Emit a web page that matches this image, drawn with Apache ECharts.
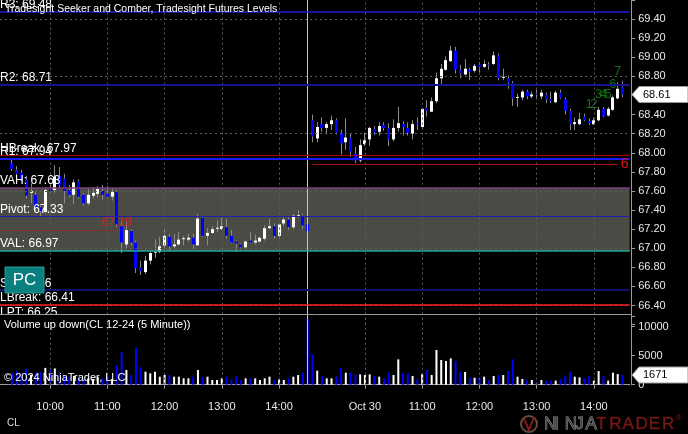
<!DOCTYPE html>
<html>
<head>
<meta charset="utf-8">
<script src="https://cdn.jsdelivr.net/npm/echarts@6/dist/echarts.min.js"></script>
<style>
html,body{margin:0;padding:0;background:#000;overflow:hidden;}
#chart{width:688px;height:434px;}
</style>
</head>
<body>
<div id="chart"></div>
<script>
const FONT = 'Arial, "Liberation Sans", sans-serif';

// ---------- sessions / categories (5 minute bars) ----------
const sessions = [
  {day: 'Oct 29', start: 9 * 60 + 10, end: 14 * 60 + 30},
  {day: 'Oct 30', start: 9 * 60 + 5,  end: 14 * 60 + 35}
];
const categories = [];
sessions.forEach(s => {
  for (let m = s.start; m <= s.end; m += 5) {
    const hh = String(Math.floor(m / 60)).padStart(2, '0');
    const mm = String(m % 60).padStart(2, '0');
    categories.push(s.day + ' ' + hh + ':' + mm);
  }
});

// ---------- price data ----------
const open = [null,null,
67.89,67.82,67.79,67.72,67.58,67.56,67.43,67.38,67.64,67.61,
67.76,67.73,67.61,67.56,67.70,67.56,67.47,67.55,67.57,67.60,
67.57,67.54,67.59,67.23,67.04,67.18,67.06,66.80,66.75,66.87,
66.95,66.96,67.03,67.12,67.02,67.04,67.09,67.09,67.11,67.03,
67.32,67.13,67.16,67.20,67.20,67.22,67.13,67.07,67.04,67.01,
67.08,67.06,67.07,67.10,67.21,67.23,67.13,67.26,67.30,67.22,
67.34,67.34,67.25,
68.34,68.15,68.30,68.26,68.30,68.34,68.21,68.11,68.16,67.99,
67.92,68.09,68.14,68.25,68.22,68.29,68.26,68.14,68.26,68.30,
68.26,68.20,68.30,68.27,68.47,68.43,68.54,68.78,68.87,68.96,
69.07,68.87,68.82,68.87,68.86,68.92,68.90,68.92,68.93,69.02,
68.78,68.78,68.73,68.57,68.58,68.64,68.59,68.61,68.59,68.61,
68.56,68.53,68.63,68.56,68.44,68.30,68.30,68.38,68.33,68.30,
68.34,68.46,68.39,68.45,68.57,68.69,
null];
const high = [null,null,
67.94,67.86,67.82,67.76,67.68,67.59,67.45,67.64,67.68,67.87,
67.85,67.78,67.66,67.72,67.72,67.58,67.62,67.64,67.65,67.66,
67.65,67.63,67.61,67.28,67.27,67.20,67.08,66.87,66.92,66.97,
67.09,67.12,67.20,67.15,67.15,67.17,67.13,67.15,67.15,67.36,
67.33,67.21,67.23,67.29,67.32,67.31,67.19,67.08,67.05,67.08,
67.17,67.14,67.12,67.24,67.31,67.26,67.26,67.32,67.32,67.36,
67.40,67.36,67.26,
68.40,68.32,68.37,68.32,68.39,68.36,68.24,68.36,68.20,68.06,
68.14,68.21,68.27,68.28,68.32,68.32,68.31,68.35,68.48,68.33,
68.32,68.34,68.37,68.47,68.55,68.58,68.84,68.93,69.01,69.12,
69.11,68.92,68.98,68.89,68.93,68.95,68.97,68.95,69.06,69.04,
68.88,68.81,68.75,68.62,68.66,68.66,68.64,68.66,68.66,68.63,
68.64,68.65,68.66,68.58,68.46,68.37,68.42,68.41,68.36,68.37,
68.48,68.48,68.48,68.60,68.74,68.75,
null];
const low = [null,null,
67.81,67.76,67.70,67.52,67.47,67.38,67.33,67.36,67.57,67.58,
67.63,67.47,67.53,67.46,67.52,67.45,67.45,67.52,67.53,67.51,
67.52,67.50,67.22,66.95,67.00,67.03,66.74,66.72,66.73,66.83,
66.90,66.95,67.00,66.98,67.00,67.03,67.03,67.07,66.99,67.03,
67.12,67.03,67.15,67.17,67.19,67.10,67.05,66.96,66.99,66.99,
67.05,67.04,67.06,67.08,67.20,67.10,67.11,67.23,67.19,67.20,
67.32,67.20,67.17,
68.11,68.11,68.22,68.19,68.24,68.19,67.98,68.03,67.96,67.89,
67.90,68.07,68.07,68.19,68.18,68.23,68.07,68.12,68.22,68.18,
68.18,68.14,68.24,68.25,68.38,68.43,68.52,68.71,68.86,68.95,
68.83,68.78,68.81,68.76,68.84,68.84,68.89,68.87,68.92,68.76,
68.76,68.67,68.49,68.48,68.55,68.56,68.57,68.57,68.56,68.52,
68.52,68.52,68.56,68.40,68.24,68.24,68.29,68.33,68.29,68.29,
68.33,68.37,68.38,68.44,68.56,68.58,
null];
const close = [null,null,
67.83,67.78,67.72,67.55,67.60,67.42,67.39,67.61,67.60,67.75,
67.66,67.60,67.56,67.69,67.54,67.47,67.56,67.58,67.62,67.56,
67.54,67.59,67.25,67.06,67.19,67.06,66.79,66.76,66.87,66.95,
66.96,67.02,67.13,67.02,67.04,67.09,67.10,67.11,67.04,67.31,
67.13,67.16,67.20,67.21,67.23,67.13,67.06,67.05,67.01,67.07,
67.06,67.08,67.11,67.21,67.23,67.13,67.25,67.30,67.22,67.34,
67.34,67.24,67.18,
68.17,68.27,68.26,68.30,68.34,68.21,68.10,68.16,68.01,67.92,
68.08,68.13,68.26,68.21,68.28,68.26,68.14,68.26,68.31,68.27,
68.21,68.30,68.29,68.46,68.44,68.54,68.78,68.88,68.97,69.07,
68.87,68.83,68.88,68.85,68.91,68.90,68.93,68.91,69.02,68.78,
68.79,68.73,68.57,68.58,68.64,68.59,68.61,68.60,68.63,68.56,
68.54,68.63,68.57,68.44,68.30,68.32,68.35,68.34,68.31,68.34,
68.45,68.38,68.46,68.58,68.67,68.61,
null];
const volume = [null,null,
2000,2400,2100,2800,1700,2100,2200,2900,2500,2800,
1900,1700,1300,1500,1200,1200,1100,1000,1300,1100,
1500,1000,3400,5690,2530,1670,6380,3000,2240,1960,
2240,1380,1670,1670,1380,1380,1100,1100,1380,2530,
1380,1380,810,810,1100,1380,900,1450,810,1100,
1100,1100,810,1100,1380,810,900,810,1100,1380,
1670,2070,11270,
5240,2420,1500,1100,1100,1380,2930,2070,2070,1780,
1780,1670,1780,1500,1380,1100,2070,1670,4370,2070,
1960,1500,900,1840,2530,1670,5980,4260,4080,4540,
4080,2240,2180,1210,1210,1210,1380,810,1500,1610,
1670,2410,4370,1380,980,810,810,520,810,700,
700,700,980,1560,2240,1380,1270,1100,1560,700,
2350,1560,700,2070,1840,1671,
null];

// ---------- levels ----------
const levelNames  = ['R3', 'R2', 'HBreak', 'R1', 'VAH', 'Pivot', 'VAL', 'S1', 'LBreak', 'LPT'];
const levelValues = [69.48, 68.71, 67.97, 67.94, 67.63, 67.33, 66.97, 66.56, 66.41, 66.25];
const priceTicks  = [66.4, 67.0, 67.6, 68.2, 68.8, 69.4];   // dotted grid rows
const volumeTicks = [0, 5000, 10000];

// seeker / comber counts
const seekerIdx   = [123, 124, 125, 126, 127, 128, 129];
const seekerText  = ['1', '2', '3', '4', '5', '6', '7'];
const seekerPrice = [68.51, 68.51, 68.61, 68.61, 68.61, 68.72, 68.85];
const comberLine  = {from: 65, to: 129, price: 67.88, text: '6'};
const markerLine  = {from: 0, to: 24, price: 67.19};

// ---------- styles ----------
const levelStyle = {
  R3:     {color: '#1c1cd8', width: 1.5},
  R2:     {color: '#14148f', width: 2},
  HBreak: {color: '#b00000', width: 1},
  R1:     {color: '#1a1aff', width: 2},
  VAH:    {color: '#7e3c7e', width: 1.5},
  Pivot:  {color: '#1e1eb0', width: 1},
  VAL:    {color: '#22a898', width: 1.5},
  S1:     {color: '#12126e', width: 2},
  LBreak: {color: '#ff2020', width: 1.5},
  LPT:    {color: 'rgba(0,0,0,0)', width: 1}
};
const UP = '#ffffff', DOWN = '#0000ff', WICK = '#8a8a8a', GRID = '#5c5c5c', AXIS = '#9a9a9a', TXT = '#e8e8e8';

const N = categories.length;
const SLOT = 4.77;
const PLOT_W = N * SLOT;

const hourIdx = [];
categories.forEach((c, i) => { const t = c.slice(-5); if (t.endsWith(':00') && t >= '10:00') hourIdx.push(i); });
const breakIdx = categories.indexOf('Oct 29 14:30');
const isHour = (i) => hourIdx.indexOf(i) >= 0;
function fmtLabel(v) {
  const day = v.slice(0, 6), t = v.slice(-5);
  if (day === 'Oct 30' && t === '10:00') return 'Oct 30';
  return t;
}

const candleData = [];
for (let i = 0; i < N; i++) {
  if (open[i] != null) candleData.push([i, open[i], high[i], low[i], close[i]]);
}
function renderCandle(params, api) {
  const i = api.value(0);
  const o = api.value(1), h = api.value(2), l = api.value(3), c = api.value(4);
  const pO = api.coord([i, o]), pC = api.coord([i, c]);
  const pH = api.coord([i, h]), pL = api.coord([i, l]);
  const cx = Math.floor(pO[0]);
  let top = Math.min(pO[1], pC[1]);
  let hgt = Math.abs(pO[1] - pC[1]);
  if (hgt < 1) { top = top - 0.5; hgt = 1; }
  return {type: 'group', children: [
    {type: 'line', shape: {x1: cx + 0.5, y1: pH[1], x2: cx + 0.5, y2: pL[1]}, style: {stroke: WICK, lineWidth: 1}},
    {type: 'rect', shape: {x: cx - 1, y: top, width: 3, height: hgt}, style: {fill: c >= o ? UP : DOWN}}
  ]};
}

const dotted = {color: GRID, width: 1, type: [2, 3]};
const levelLines = levelNames.map((n, k) => ({
  yAxis: levelValues[k],
  lineStyle: {color: levelStyle[n].color, width: levelStyle[n].width, type: 'solid'},
  label: {show: true, position: 'insideStartTop', distance: [0, 1], formatter: n + ': ' + levelValues[k].toFixed(2),
          color: '#ffffff', fontSize: 12, fontFamily: FONT}
}));
const gridRows = priceTicks.map(v => ({yAxis: v, lineStyle: dotted, label: {show: false}}));
const gridCols = hourIdx.map(i => ({xAxis: i, lineStyle: dotted, label: {show: false}}));
const breakCol = {xAxis: breakIdx, lineStyle: {color: '#c8c8c8', width: 1, type: 'solid'}, label: {show: false}};

const option = {
  backgroundColor: '#000000',
  animation: false,
  title: [
    {text: 'Tradesight Seeker and Comber, Tradesight Futures Levels', left: 5, top: 4, padding: 0,
     textStyle: {color: '#ffffff', fontSize: 10.5, fontWeight: 'normal', fontFamily: FONT}},
    {text: 'Volume up down(CL 12-24 (5 Minute))', left: 4, top: 319, padding: 0,
     textStyle: {color: '#ffffff', fontSize: 11, fontWeight: 'normal', fontFamily: FONT}},
    {text: '© 2024 NinjaTrader, LLC', left: 4, top: 372, padding: 0,
     textStyle: {color: '#ffffff', fontSize: 11, fontWeight: 'normal', fontFamily: FONT}},
    {text: 'CL', left: 7, top: 418, padding: 0,
     textStyle: {color: '#dddddd', fontSize: 10, fontWeight: 'normal', fontFamily: FONT}}
  ],
  grid: [
    {left: 0, width: PLOT_W, top: -4.43, height: 329.05, containLabel: false},
    {left: 0, width: PLOT_W, top: 316, height: 68.7, containLabel: false}
  ],
  xAxis: [
    {type: 'category', gridIndex: 0, data: categories, boundaryGap: true,
     axisLine: {show: false}, axisTick: {show: false}, axisLabel: {show: false}, splitLine: {show: false}},
    {type: 'category', gridIndex: 1, data: categories, boundaryGap: true,
     axisLine: {show: true, lineStyle: {color: AXIS, width: 1}},
     axisTick: {show: true, alignWithLabel: true, interval: (i) => isHour(i), length: 4, lineStyle: {color: AXIS}},
     axisLabel: {show: true, interval: (i) => isHour(i), formatter: fmtLabel, color: TXT, fontSize: 11,
                 fontFamily: FONT, margin: 17, hideOverlap: false},
     splitLine: {show: false}}
  ],
  yAxis: [
    {type: 'value', gridIndex: 0, position: 'right', offset: 1.5, min: 66.2, max: 69.6, interval: 0.2,
     axisLine: {show: true, lineStyle: {color: AXIS}},
     axisTick: {show: true, length: 4, lineStyle: {color: AXIS}},
     axisLabel: {show: true, color: TXT, fontSize: 11, fontFamily: FONT, margin: 7,
                 formatter: (v) => (v < 66.39 || v > 69.41) ? '' : v.toFixed(2)},
     splitLine: {show: false}},
    {type: 'value', gridIndex: 1, position: 'right', offset: 1.5, min: 0, max: 11845, interval: 5000,
     axisLine: {show: true, lineStyle: {color: AXIS}},
     axisTick: {show: true, length: 4, lineStyle: {color: AXIS}},
     axisLabel: {show: true, color: TXT, fontSize: 11, fontFamily: FONT, margin: 7,
                 formatter: (v) => volumeTicks.indexOf(v) >= 0 ? String(v) : ''},
     splitLine: {show: false}}
  ],
  series: [
    {
      name: 'levels', type: 'line', xAxisIndex: 0, yAxisIndex: 0, z: 1, silent: true,
      data: close, showSymbol: false, lineStyle: {opacity: 0}, itemStyle: {opacity: 0},
      markArea: {silent: true, itemStyle: {color: '#4b4b45'},
        data: [[{yAxis: levelValues[levelNames.indexOf('VAL')]}, {yAxis: levelValues[levelNames.indexOf('VAH')]}]]},
      markLine: {silent: true, symbol: ['none', 'none'], animation: false, precision: 2,
        data: gridRows.concat(gridCols, [breakCol], levelLines, [
          [{coord: [comberLine.from, comberLine.price], lineStyle: {color: '#b01010', width: 1, type: 'solid'},
            label: {show: true, position: 'end', distance: 3, formatter: comberLine.text, color: '#e01818', fontSize: 14, fontFamily: FONT}},
           {coord: [comberLine.to, comberLine.price]}],
          [{coord: [markerLine.from, markerLine.price], lineStyle: {color: '#c01010', width: 1, type: [2, 2]}, label: {show: false}},
           {coord: [markerLine.to, markerLine.price]}]
        ])}
    },
    {
      name: 'candles', type: 'custom', xAxisIndex: 0, yAxisIndex: 0, z: 3, silent: true,
      renderItem: renderCandle, data: candleData, encode: {x: 0, y: [1, 2, 3, 4]}
    },
    {
      name: 'seeker', type: 'scatter', xAxisIndex: 0, yAxisIndex: 0, z: 4, silent: true,
      symbolSize: 0,
      data: seekerIdx.map((x, k) => [x, seekerPrice[k]]),
      label: {show: true, position: 'inside', formatter: (p) => seekerText[p.dataIndex],
              color: '#1d8a1d', fontSize: 13, fontFamily: FONT}
    },
    {
      name: 'markerText', type: 'scatter', xAxisIndex: 0, yAxisIndex: 0, z: 4, silent: true,
      symbolSize: 0,
      data: [[markerLine.to, markerLine.price]],
      label: {show: true, position: 'top', distance: 1, formatter: markerLine.price.toFixed(2),
              color: '#e82020', fontSize: 12, fontFamily: FONT}
    },
    {
      name: 'volume', type: 'bar', xAxisIndex: 1, yAxisIndex: 1, z: 3, silent: true, barWidth: 2,
      data: volume.map((v, i) => v == null ? '-' : {value: v, itemStyle: {color: close[i] >= open[i] ? UP : DOWN}}),
      markLine: {silent: true, symbol: ['none', 'none'], animation: false,
        data: gridCols.concat([breakCol])}
    }
  ]
};

const chart = echarts.init(document.getElementById('chart'), null, {renderer: 'canvas', width: 688, height: 434});
chart.setOption(option);

// ---------- overlay graphics (panel border, PC button, value flags, logo) ----------
const lastI = N - 2;
const py = chart.convertToPixel({yAxisIndex: 0}, close[lastI]);
const vy = chart.convertToPixel({yAxisIndex: 1}, volume[lastI]);
function flag(y, text) {
  return [
    {type: 'polygon', z: 100, shape: {points: [[632, y], [639, y - 8], [688, y - 8], [688, y + 8], [639, y + 8]]},
     style: {fill: '#ffffff', stroke: '#9a9a9a', lineWidth: 1}},
    {type: 'text', z: 101, x: 643, y: y, style: {text: text, fill: '#000000', font: '11px ' + FONT,
     align: 'left', verticalAlign: 'middle', textAlign: 'left', textVerticalAlign: 'middle'}}
  ];
}
const logo = [];
'NINJA'.split('').forEach((ch, k) => logo.push({type: 'text', z: 100, x: 544 + k * 10.4, y: 424,
  style: {text: ch, fill: '#4a4a4a', stroke: '#9a9a9a', lineWidth: 0.8, font: '17px ' + FONT, verticalAlign: 'middle', textVerticalAlign: 'middle'}}));
'TRADER'.split('').forEach((ch, k) => logo.push({type: 'text', z: 100, x: 596 + k * 13.2, y: 424,
  style: {text: ch, fill: '#7a1818', stroke: '#5a1010', lineWidth: 0.5, font: '17px ' + FONT, verticalAlign: 'middle', textVerticalAlign: 'middle'}}));
logo.push({type: 'text', z: 100, x: 676, y: 418, style: {text: '®', fill: '#7a1818', font: '8px ' + FONT, verticalAlign: 'middle', textVerticalAlign: 'middle'}});
logo.push({type: 'circle', z: 100, shape: {cx: 529, cy: 424, r: 8}, style: {fill: 'none', stroke: '#6a4a3a', lineWidth: 2}});
logo.push({type: 'polyline', z: 100, shape: {points: [[524, 419], [529, 430], [534, 417]]}, style: {stroke: '#8a1a1a', lineWidth: 2, fill: 'none'}});

chart.setOption({
  graphic: [
    {type: 'rect', z: 90, shape: {x: 0, y: 315, width: 140, height: 4.5}, style: {fill: '#000000'}},
    {type: 'line', z: 91, shape: {x1: 0, y1: 314.5, x2: 631, y2: 314.5}, style: {stroke: AXIS, lineWidth: 1}},
    {type: 'rect', z: 100, shape: {x: 5, y: 267, width: 39, height: 26}, style: {fill: '#0a7f7f', stroke: '#2a9a9a', lineWidth: 1}},
    {type: 'text', z: 101, x: 24.5, y: 280.5, style: {text: 'PC', fill: '#ffffff', font: '17px ' + FONT,
      align: 'center', verticalAlign: 'middle', textAlign: 'center', textVerticalAlign: 'middle'}}
  ].concat(flag(py, close[lastI].toFixed(2)), flag(vy, String(volume[lastI])), logo)
});
</script>
</body>
</html>
